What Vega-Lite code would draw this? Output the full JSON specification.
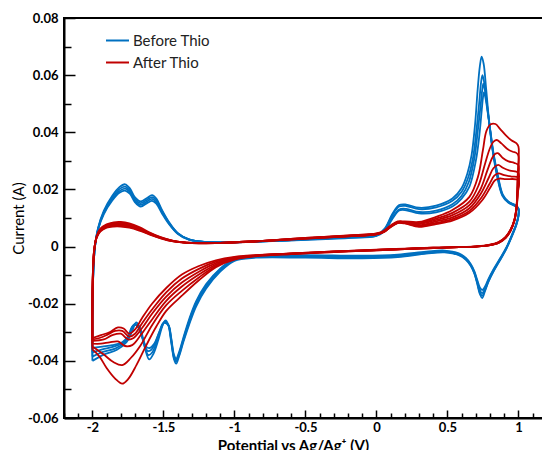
{
"$schema":"https://vega.github.io/schema/vega-lite/v6.json",
"autosize":"none",
"padding":{"left":64,"top":18,"right":0,"bottom":32},
"width":479,"height":400,
"config":{"view":{"stroke":"black","strokeWidth":2},"axis":{"grid":false,"domainColor":"black","domainWidth":2,"tickColor":"black","tickWidth":1.5,"labelFont":"Lato","labelFontWeight":"bold","labelFontSize":13,"labelColor":"black","labelOverlap":false,"labelFlush":false,"titleColor":"black"}},
"data":{"values":[
{"s":"B","c":1,"x":-2,"y":-0.04},{"s":"B","c":1,"x":-2,"y":-0.026},{"s":"B","c":1,"x":-1.994,"y":-0.01},{"s":"B","c":1,"x":-1.982,"y":0.0},{"s":"B","c":1,"x":-1.96,"y":0.0065},{"s":"B","c":1,"x":-1.92,"y":0.0125},{"s":"B","c":1,"x":-1.86,"y":0.0178},{"s":"B","c":1,"x":-1.81,"y":0.0208},{"s":"B","c":1,"x":-1.77,"y":0.0218},{"s":"B","c":1,"x":-1.735,"y":0.0203},{"s":"B","c":1,"x":-1.7,"y":0.0172},{"s":"B","c":1,"x":-1.66,"y":0.0158},{"s":"B","c":1,"x":-1.615,"y":0.017},{"s":"B","c":1,"x":-1.58,"y":0.018},{"s":"B","c":1,"x":-1.55,"y":0.0168},{"s":"B","c":1,"x":-1.51,"y":0.0128},{"s":"B","c":1,"x":-1.46,"y":0.0085},{"s":"B","c":1,"x":-1.4,"y":0.0048},{"s":"B","c":1,"x":-1.32,"y":0.0025},{"s":"B","c":1,"x":-1.2,"y":0.0016},{"s":"B","c":1,"x":-1.0,"y":0.0015},{"s":"B","c":1,"x":-0.6,"y":0.0023},{"s":"B","c":1,"x":-0.2,"y":0.0033},
{"s":"B","c":1,"x":0.0,"y":0.004},{"s":"B","c":1,"x":0.06,"y":0.0064},{"s":"B","c":1,"x":0.11,"y":0.0112},{"s":"B","c":1,"x":0.16,"y":0.0145},{"s":"B","c":1,"x":0.21,"y":0.0147},{"s":"B","c":1,"x":0.3,"y":0.0136},{"s":"B","c":1,"x":0.42,"y":0.0143},{"s":"B","c":1,"x":0.535,"y":0.0168},{"s":"B","c":1,"x":0.6,"y":0.0205},{"s":"B","c":1,"x":0.64,"y":0.0255},{"s":"B","c":1,"x":0.67,"y":0.032},{"s":"B","c":1,"x":0.695,"y":0.043},{"s":"B","c":1,"x":0.713,"y":0.055},{"s":"B","c":1,"x":0.728,"y":0.063},{"s":"B","c":1,"x":0.741,"y":0.0665},{"s":"B","c":1,"x":0.755,"y":0.064},{"s":"B","c":1,"x":0.773,"y":0.055},{"s":"B","c":1,"x":0.795,"y":0.043},{"s":"B","c":1,"x":0.817,"y":0.034},{"s":"B","c":1,"x":0.85,"y":0.0245},{"s":"B","c":1,"x":0.887,"y":0.0178},{"s":"B","c":1,"x":0.93,"y":0.0153},{"s":"B","c":1,"x":0.975,"y":0.0142},{"s":"B","c":1,"x":1.0,"y":0.013},
{"s":"B","c":1,"x":1.0,"y":0.0105},{"s":"B","c":1,"x":0.985,"y":0.0075},{"s":"B","c":1,"x":0.955,"y":0.0037},{"s":"B","c":1,"x":0.915,"y":-0.0008},{"s":"B","c":1,"x":0.87,"y":-0.0048},{"s":"B","c":1,"x":0.825,"y":-0.0087},{"s":"B","c":1,"x":0.79,"y":-0.0122},{"s":"B","c":1,"x":0.765,"y":-0.0155},{"s":"B","c":1,"x":0.745,"y":-0.018},{"s":"B","c":1,"x":0.728,"y":-0.0166},{"s":"B","c":1,"x":0.71,"y":-0.013},{"s":"B","c":1,"x":0.69,"y":-0.0095},{"s":"B","c":1,"x":0.665,"y":-0.0068},{"s":"B","c":1,"x":0.63,"y":-0.0046},{"s":"B","c":1,"x":0.58,"y":-0.003},{"s":"B","c":1,"x":0.48,"y":-0.002},{"s":"B","c":1,"x":0.35,"y":-0.0025},{"s":"B","c":1,"x":0.15,"y":-0.0037},{"s":"B","c":1,"x":-0.1,"y":-0.0041},{"s":"B","c":1,"x":-0.5,"y":-0.0039},
{"s":"B","c":1,"x":-0.85,"y":-0.0039},{"s":"B","c":1,"x":-1.0,"y":-0.005},{"s":"B","c":1,"x":-1.1,"y":-0.0088},{"s":"B","c":1,"x":-1.2,"y":-0.0148},{"s":"B","c":1,"x":-1.27,"y":-0.021},{"s":"B","c":1,"x":-1.32,"y":-0.0275},{"s":"B","c":1,"x":-1.36,"y":-0.0335},{"s":"B","c":1,"x":-1.39,"y":-0.0385},{"s":"B","c":1,"x":-1.41,"y":-0.041},{"s":"B","c":1,"x":-1.425,"y":-0.0395},{"s":"B","c":1,"x":-1.445,"y":-0.0335},{"s":"B","c":1,"x":-1.465,"y":-0.0275},{"s":"B","c":1,"x":-1.485,"y":-0.0258},{"s":"B","c":1,"x":-1.505,"y":-0.0275},{"s":"B","c":1,"x":-1.535,"y":-0.0325},{"s":"B","c":1,"x":-1.57,"y":-0.0375},{"s":"B","c":1,"x":-1.6,"y":-0.0395},{"s":"B","c":1,"x":-1.63,"y":-0.0355},{"s":"B","c":1,"x":-1.66,"y":-0.029},{"s":"B","c":1,"x":-1.69,"y":-0.0265},{"s":"B","c":1,"x":-1.72,"y":-0.0295},{"s":"B","c":1,"x":-1.76,"y":-0.0335},{"s":"B","c":1,"x":-1.83,"y":-0.0362},{"s":"B","c":1,"x":-1.92,"y":-0.0378},{"s":"B","c":1,"x":-2.0,"y":-0.04},

{"s":"B","c":2,"x":-2,"y":-0.0385},{"s":"B","c":2,"x":-2,"y":-0.025},{"s":"B","c":2,"x":-1.994,"y":-0.0098},{"s":"B","c":2,"x":-1.982,"y":0.0},{"s":"B","c":2,"x":-1.96,"y":0.0063},{"s":"B","c":2,"x":-1.92,"y":0.0121},{"s":"B","c":2,"x":-1.86,"y":0.0172},{"s":"B","c":2,"x":-1.81,"y":0.0201},{"s":"B","c":2,"x":-1.77,"y":0.021},{"s":"B","c":2,"x":-1.735,"y":0.0196},{"s":"B","c":2,"x":-1.7,"y":0.0166},{"s":"B","c":2,"x":-1.66,"y":0.0152},{"s":"B","c":2,"x":-1.615,"y":0.0164},{"s":"B","c":2,"x":-1.58,"y":0.0173},{"s":"B","c":2,"x":-1.55,"y":0.0162},{"s":"B","c":2,"x":-1.51,"y":0.0124},{"s":"B","c":2,"x":-1.46,"y":0.0083},{"s":"B","c":2,"x":-1.4,"y":0.0047},{"s":"B","c":2,"x":-1.32,"y":0.0025},{"s":"B","c":2,"x":-1.2,"y":0.0016},{"s":"B","c":2,"x":-1.0,"y":0.0015},{"s":"B","c":2,"x":-0.6,"y":0.0023},{"s":"B","c":2,"x":-0.2,"y":0.0032},
{"s":"B","c":2,"x":0.0,"y":0.0039},{"s":"B","c":2,"x":0.06,"y":0.0062},{"s":"B","c":2,"x":0.11,"y":0.0108},{"s":"B","c":2,"x":0.16,"y":0.014},{"s":"B","c":2,"x":0.21,"y":0.0142},{"s":"B","c":2,"x":0.3,"y":0.0131},{"s":"B","c":2,"x":0.42,"y":0.0137},{"s":"B","c":2,"x":0.535,"y":0.016},{"s":"B","c":2,"x":0.6,"y":0.0192},{"s":"B","c":2,"x":0.645,"y":0.024},{"s":"B","c":2,"x":0.68,"y":0.031},{"s":"B","c":2,"x":0.705,"y":0.041},{"s":"B","c":2,"x":0.725,"y":0.051},{"s":"B","c":2,"x":0.737,"y":0.0575},{"s":"B","c":2,"x":0.747,"y":0.06},{"s":"B","c":2,"x":0.762,"y":0.0565},{"s":"B","c":2,"x":0.78,"y":0.049},{"s":"B","c":2,"x":0.8,"y":0.041},{"s":"B","c":2,"x":0.82,"y":0.0335},{"s":"B","c":2,"x":0.852,"y":0.0248},{"s":"B","c":2,"x":0.888,"y":0.018},{"s":"B","c":2,"x":0.93,"y":0.0155},{"s":"B","c":2,"x":0.975,"y":0.0144},{"s":"B","c":2,"x":1.0,"y":0.0132},
{"s":"B","c":2,"x":1.0,"y":0.0107},{"s":"B","c":2,"x":0.985,"y":0.0077},{"s":"B","c":2,"x":0.955,"y":0.0039},{"s":"B","c":2,"x":0.915,"y":-0.0006},{"s":"B","c":2,"x":0.87,"y":-0.0046},{"s":"B","c":2,"x":0.825,"y":-0.0085},{"s":"B","c":2,"x":0.79,"y":-0.012},{"s":"B","c":2,"x":0.765,"y":-0.0152},{"s":"B","c":2,"x":0.745,"y":-0.0172},{"s":"B","c":2,"x":0.728,"y":-0.016},{"s":"B","c":2,"x":0.71,"y":-0.0127},{"s":"B","c":2,"x":0.69,"y":-0.0093},{"s":"B","c":2,"x":0.665,"y":-0.0066},{"s":"B","c":2,"x":0.63,"y":-0.0044},{"s":"B","c":2,"x":0.58,"y":-0.0028},{"s":"B","c":2,"x":0.48,"y":-0.0018},{"s":"B","c":2,"x":0.35,"y":-0.0023},{"s":"B","c":2,"x":0.15,"y":-0.0034},{"s":"B","c":2,"x":-0.1,"y":-0.0038},{"s":"B","c":2,"x":-0.5,"y":-0.0036},
{"s":"B","c":2,"x":-0.85,"y":-0.0037},{"s":"B","c":2,"x":-1.0,"y":-0.0048},{"s":"B","c":2,"x":-1.1,"y":-0.0084},{"s":"B","c":2,"x":-1.2,"y":-0.0142},{"s":"B","c":2,"x":-1.27,"y":-0.0203},{"s":"B","c":2,"x":-1.32,"y":-0.0268},{"s":"B","c":2,"x":-1.36,"y":-0.033},{"s":"B","c":2,"x":-1.39,"y":-0.038},{"s":"B","c":2,"x":-1.41,"y":-0.0403},{"s":"B","c":2,"x":-1.425,"y":-0.039},{"s":"B","c":2,"x":-1.445,"y":-0.033},{"s":"B","c":2,"x":-1.465,"y":-0.0275},{"s":"B","c":2,"x":-1.49,"y":-0.0262},{"s":"B","c":2,"x":-1.515,"y":-0.0285},{"s":"B","c":2,"x":-1.545,"y":-0.033},{"s":"B","c":2,"x":-1.578,"y":-0.037},{"s":"B","c":2,"x":-1.605,"y":-0.038},{"s":"B","c":2,"x":-1.635,"y":-0.0345},{"s":"B","c":2,"x":-1.67,"y":-0.0285},{"s":"B","c":2,"x":-1.7,"y":-0.027},{"s":"B","c":2,"x":-1.73,"y":-0.0305},{"s":"B","c":2,"x":-1.77,"y":-0.0335},{"s":"B","c":2,"x":-1.84,"y":-0.0357},{"s":"B","c":2,"x":-1.92,"y":-0.0368},{"s":"B","c":2,"x":-2.0,"y":-0.0385},

{"s":"B","c":3,"x":-2,"y":-0.037},{"s":"B","c":3,"x":-2,"y":-0.024},{"s":"B","c":3,"x":-1.994,"y":-0.0095},{"s":"B","c":3,"x":-1.982,"y":0.0},{"s":"B","c":3,"x":-1.96,"y":0.0061},{"s":"B","c":3,"x":-1.92,"y":0.0117},{"s":"B","c":3,"x":-1.86,"y":0.0166},{"s":"B","c":3,"x":-1.81,"y":0.0194},{"s":"B","c":3,"x":-1.77,"y":0.0203},{"s":"B","c":3,"x":-1.735,"y":0.019},{"s":"B","c":3,"x":-1.7,"y":0.016},{"s":"B","c":3,"x":-1.66,"y":0.0146},{"s":"B","c":3,"x":-1.615,"y":0.0158},{"s":"B","c":3,"x":-1.58,"y":0.0167},{"s":"B","c":3,"x":-1.55,"y":0.0156},{"s":"B","c":3,"x":-1.51,"y":0.012},{"s":"B","c":3,"x":-1.46,"y":0.0081},{"s":"B","c":3,"x":-1.4,"y":0.0046},{"s":"B","c":3,"x":-1.32,"y":0.0024},{"s":"B","c":3,"x":-1.2,"y":0.0016},{"s":"B","c":3,"x":-1.0,"y":0.0015},{"s":"B","c":3,"x":-0.6,"y":0.0022},{"s":"B","c":3,"x":-0.2,"y":0.0031},
{"s":"B","c":3,"x":0.0,"y":0.0038},{"s":"B","c":3,"x":0.06,"y":0.0058},{"s":"B","c":3,"x":0.11,"y":0.0099},{"s":"B","c":3,"x":0.16,"y":0.013},{"s":"B","c":3,"x":0.21,"y":0.0132},{"s":"B","c":3,"x":0.3,"y":0.0121},{"s":"B","c":3,"x":0.42,"y":0.0126},{"s":"B","c":3,"x":0.535,"y":0.0148},{"s":"B","c":3,"x":0.6,"y":0.0178},{"s":"B","c":3,"x":0.65,"y":0.0225},{"s":"B","c":3,"x":0.69,"y":0.031},{"s":"B","c":3,"x":0.715,"y":0.041},{"s":"B","c":3,"x":0.735,"y":0.05},{"s":"B","c":3,"x":0.745,"y":0.0548},{"s":"B","c":3,"x":0.753,"y":0.057},{"s":"B","c":3,"x":0.765,"y":0.0545},{"s":"B","c":3,"x":0.783,"y":0.048},{"s":"B","c":3,"x":0.802,"y":0.0405},{"s":"B","c":3,"x":0.822,"y":0.033},{"s":"B","c":3,"x":0.853,"y":0.025},{"s":"B","c":3,"x":0.888,"y":0.0181},{"s":"B","c":3,"x":0.93,"y":0.0156},{"s":"B","c":3,"x":0.975,"y":0.0145},{"s":"B","c":3,"x":1.0,"y":0.0133},
{"s":"B","c":3,"x":1.0,"y":0.0108},{"s":"B","c":3,"x":0.985,"y":0.0078},{"s":"B","c":3,"x":0.955,"y":0.004},{"s":"B","c":3,"x":0.915,"y":-0.0005},{"s":"B","c":3,"x":0.87,"y":-0.0044},{"s":"B","c":3,"x":0.825,"y":-0.0082},{"s":"B","c":3,"x":0.79,"y":-0.0116},{"s":"B","c":3,"x":0.765,"y":-0.0146},{"s":"B","c":3,"x":0.745,"y":-0.0163},{"s":"B","c":3,"x":0.728,"y":-0.0152},{"s":"B","c":3,"x":0.71,"y":-0.0122},{"s":"B","c":3,"x":0.69,"y":-0.009},{"s":"B","c":3,"x":0.665,"y":-0.0064},{"s":"B","c":3,"x":0.63,"y":-0.0042},{"s":"B","c":3,"x":0.58,"y":-0.0026},{"s":"B","c":3,"x":0.48,"y":-0.0016},{"s":"B","c":3,"x":0.35,"y":-0.002},{"s":"B","c":3,"x":0.15,"y":-0.0031},{"s":"B","c":3,"x":-0.1,"y":-0.0035},{"s":"B","c":3,"x":-0.5,"y":-0.0033},
{"s":"B","c":3,"x":-0.85,"y":-0.0035},{"s":"B","c":3,"x":-1.0,"y":-0.0046},{"s":"B","c":3,"x":-1.1,"y":-0.008},{"s":"B","c":3,"x":-1.2,"y":-0.0137},{"s":"B","c":3,"x":-1.27,"y":-0.0197},{"s":"B","c":3,"x":-1.32,"y":-0.0262},{"s":"B","c":3,"x":-1.36,"y":-0.0325},{"s":"B","c":3,"x":-1.39,"y":-0.0375},{"s":"B","c":3,"x":-1.41,"y":-0.0398},{"s":"B","c":3,"x":-1.425,"y":-0.0385},{"s":"B","c":3,"x":-1.445,"y":-0.0325},{"s":"B","c":3,"x":-1.465,"y":-0.0275},{"s":"B","c":3,"x":-1.495,"y":-0.0265},{"s":"B","c":3,"x":-1.525,"y":-0.0295},{"s":"B","c":3,"x":-1.555,"y":-0.0335},{"s":"B","c":3,"x":-1.587,"y":-0.0362},{"s":"B","c":3,"x":-1.612,"y":-0.0365},{"s":"B","c":3,"x":-1.64,"y":-0.033},{"s":"B","c":3,"x":-1.68,"y":-0.028},{"s":"B","c":3,"x":-1.71,"y":-0.0275},{"s":"B","c":3,"x":-1.74,"y":-0.031},{"s":"B","c":3,"x":-1.78,"y":-0.0335},{"s":"B","c":3,"x":-1.85,"y":-0.035},{"s":"B","c":3,"x":-1.93,"y":-0.036},{"s":"B","c":3,"x":-2.0,"y":-0.037},

{"s":"B","c":4,"x":-2,"y":-0.0355},{"s":"B","c":4,"x":-2,"y":-0.023},{"s":"B","c":4,"x":-1.994,"y":-0.0092},{"s":"B","c":4,"x":-1.982,"y":0.0},{"s":"B","c":4,"x":-1.96,"y":0.0059},{"s":"B","c":4,"x":-1.92,"y":0.0113},{"s":"B","c":4,"x":-1.86,"y":0.0161},{"s":"B","c":4,"x":-1.81,"y":0.0188},{"s":"B","c":4,"x":-1.77,"y":0.0196},{"s":"B","c":4,"x":-1.735,"y":0.0184},{"s":"B","c":4,"x":-1.7,"y":0.0155},{"s":"B","c":4,"x":-1.66,"y":0.014},{"s":"B","c":4,"x":-1.615,"y":0.0152},{"s":"B","c":4,"x":-1.58,"y":0.016},{"s":"B","c":4,"x":-1.55,"y":0.015},{"s":"B","c":4,"x":-1.51,"y":0.0116},{"s":"B","c":4,"x":-1.46,"y":0.0078},{"s":"B","c":4,"x":-1.4,"y":0.0045},{"s":"B","c":4,"x":-1.32,"y":0.0024},{"s":"B","c":4,"x":-1.2,"y":0.0016},{"s":"B","c":4,"x":-1.0,"y":0.0015},{"s":"B","c":4,"x":-0.6,"y":0.0022},{"s":"B","c":4,"x":-0.2,"y":0.003},
{"s":"B","c":4,"x":0.0,"y":0.0037},{"s":"B","c":4,"x":0.06,"y":0.0056},{"s":"B","c":4,"x":0.11,"y":0.0095},{"s":"B","c":4,"x":0.16,"y":0.0126},{"s":"B","c":4,"x":0.21,"y":0.0127},{"s":"B","c":4,"x":0.3,"y":0.0116},{"s":"B","c":4,"x":0.42,"y":0.012},{"s":"B","c":4,"x":0.535,"y":0.014},{"s":"B","c":4,"x":0.6,"y":0.0168},{"s":"B","c":4,"x":0.655,"y":0.021},{"s":"B","c":4,"x":0.7,"y":0.03},{"s":"B","c":4,"x":0.725,"y":0.039},{"s":"B","c":4,"x":0.742,"y":0.048},{"s":"B","c":4,"x":0.75,"y":0.052},{"s":"B","c":4,"x":0.757,"y":0.054},{"s":"B","c":4,"x":0.768,"y":0.052},{"s":"B","c":4,"x":0.785,"y":0.0465},{"s":"B","c":4,"x":0.805,"y":0.0395},{"s":"B","c":4,"x":0.825,"y":0.0325},{"s":"B","c":4,"x":0.855,"y":0.025},{"s":"B","c":4,"x":0.89,"y":0.0182},{"s":"B","c":4,"x":0.93,"y":0.0157},{"s":"B","c":4,"x":0.975,"y":0.0146},{"s":"B","c":4,"x":1.0,"y":0.0134},
{"s":"B","c":4,"x":1.0,"y":0.011},{"s":"B","c":4,"x":0.985,"y":0.008},{"s":"B","c":4,"x":0.955,"y":0.0042},{"s":"B","c":4,"x":0.915,"y":-0.0003},{"s":"B","c":4,"x":0.87,"y":-0.0042},{"s":"B","c":4,"x":0.825,"y":-0.0079},{"s":"B","c":4,"x":0.79,"y":-0.0112},{"s":"B","c":4,"x":0.765,"y":-0.014},{"s":"B","c":4,"x":0.745,"y":-0.0152},{"s":"B","c":4,"x":0.728,"y":-0.0143},{"s":"B","c":4,"x":0.71,"y":-0.0117},{"s":"B","c":4,"x":0.69,"y":-0.0087},{"s":"B","c":4,"x":0.665,"y":-0.0062},{"s":"B","c":4,"x":0.63,"y":-0.004},{"s":"B","c":4,"x":0.58,"y":-0.0024},{"s":"B","c":4,"x":0.48,"y":-0.0014},{"s":"B","c":4,"x":0.35,"y":-0.0018},{"s":"B","c":4,"x":0.15,"y":-0.0028},{"s":"B","c":4,"x":-0.1,"y":-0.0032},{"s":"B","c":4,"x":-0.5,"y":-0.003},
{"s":"B","c":4,"x":-0.85,"y":-0.0033},{"s":"B","c":4,"x":-1.0,"y":-0.0044},{"s":"B","c":4,"x":-1.1,"y":-0.0077},{"s":"B","c":4,"x":-1.2,"y":-0.0132},{"s":"B","c":4,"x":-1.27,"y":-0.0192},{"s":"B","c":4,"x":-1.32,"y":-0.0256},{"s":"B","c":4,"x":-1.36,"y":-0.032},{"s":"B","c":4,"x":-1.39,"y":-0.037},{"s":"B","c":4,"x":-1.41,"y":-0.0392},{"s":"B","c":4,"x":-1.425,"y":-0.038},{"s":"B","c":4,"x":-1.445,"y":-0.032},{"s":"B","c":4,"x":-1.465,"y":-0.0275},{"s":"B","c":4,"x":-1.5,"y":-0.0268},{"s":"B","c":4,"x":-1.53,"y":-0.03},{"s":"B","c":4,"x":-1.565,"y":-0.034},{"s":"B","c":4,"x":-1.597,"y":-0.0355},{"s":"B","c":4,"x":-1.622,"y":-0.035},{"s":"B","c":4,"x":-1.65,"y":-0.0315},{"s":"B","c":4,"x":-1.69,"y":-0.0275},{"s":"B","c":4,"x":-1.72,"y":-0.028},{"s":"B","c":4,"x":-1.75,"y":-0.0315},{"s":"B","c":4,"x":-1.79,"y":-0.0335},{"s":"B","c":4,"x":-1.86,"y":-0.0345},{"s":"B","c":4,"x":-1.93,"y":-0.035},{"s":"B","c":4,"x":-2.0,"y":-0.0355},

{"s":"A","c":1,"x":-2,"y":-0.036},{"s":"A","c":1,"x":-2,"y":-0.022},{"s":"A","c":1,"x":-1.996,"y":-0.01},{"s":"A","c":1,"x":-1.988,"y":-0.002},{"s":"A","c":1,"x":-1.972,"y":0.0033},{"s":"A","c":1,"x":-1.945,"y":0.0062},{"s":"A","c":1,"x":-1.9,"y":0.0078},{"s":"A","c":1,"x":-1.85,"y":0.0085},{"s":"A","c":1,"x":-1.8,"y":0.0086},{"s":"A","c":1,"x":-1.74,"y":0.0081},{"s":"A","c":1,"x":-1.67,"y":0.0068},{"s":"A","c":1,"x":-1.6,"y":0.005},{"s":"A","c":1,"x":-1.52,"y":0.0033},{"s":"A","c":1,"x":-1.43,"y":0.002},{"s":"A","c":1,"x":-1.3,"y":0.0013},{"s":"A","c":1,"x":-1.1,"y":0.0013},{"s":"A","c":1,"x":-0.8,"y":0.002},{"s":"A","c":1,"x":-0.5,"y":0.003},{"s":"A","c":1,"x":-0.2,"y":0.0039},
{"s":"A","c":1,"x":0.0,"y":0.0046},{"s":"A","c":1,"x":0.05,"y":0.0054},{"s":"A","c":1,"x":0.1,"y":0.0074},{"s":"A","c":1,"x":0.15,"y":0.0088},{"s":"A","c":1,"x":0.2,"y":0.0088},{"s":"A","c":1,"x":0.3,"y":0.0086},{"s":"A","c":1,"x":0.42,"y":0.0104},{"s":"A","c":1,"x":0.535,"y":0.0128},{"s":"A","c":1,"x":0.655,"y":0.0174},{"s":"A","c":1,"x":0.715,"y":0.0244},{"s":"A","c":1,"x":0.75,"y":0.0338},{"s":"A","c":1,"x":0.775,"y":0.0405},{"s":"A","c":1,"x":0.805,"y":0.0428},{"s":"A","c":1,"x":0.838,"y":0.0429},{"s":"A","c":1,"x":0.87,"y":0.0412},{"s":"A","c":1,"x":0.91,"y":0.039},{"s":"A","c":1,"x":0.95,"y":0.0372},{"s":"A","c":1,"x":0.985,"y":0.0362},{"s":"A","c":1,"x":1.0,"y":0.035},
{"s":"A","c":1,"x":0.995,"y":0.025},{"s":"A","c":1,"x":0.988,"y":0.015},{"s":"A","c":1,"x":0.972,"y":0.0095},{"s":"A","c":1,"x":0.945,"y":0.006},{"s":"A","c":1,"x":0.91,"y":0.0034},{"s":"A","c":1,"x":0.86,"y":0.0016},{"s":"A","c":1,"x":0.79,"y":0.0006},{"s":"A","c":1,"x":0.7,"y":0.0001},{"s":"A","c":1,"x":0.58,"y":-0.0002},{"s":"A","c":1,"x":0.4,"y":-0.0005},{"s":"A","c":1,"x":0.2,"y":-0.0009},{"s":"A","c":1,"x":0.0,"y":-0.0013},{"s":"A","c":1,"x":-0.3,"y":-0.0019},{"s":"A","c":1,"x":-0.6,"y":-0.0026},{"s":"A","c":1,"x":-0.85,"y":-0.0034},
{"s":"A","c":1,"x":-1.0,"y":-0.0046},{"s":"A","c":1,"x":-1.13,"y":-0.0072},{"s":"A","c":1,"x":-1.25,"y":-0.0118},{"s":"A","c":1,"x":-1.37,"y":-0.0172},{"s":"A","c":1,"x":-1.48,"y":-0.0225},{"s":"A","c":1,"x":-1.55,"y":-0.028},{"s":"A","c":1,"x":-1.62,"y":-0.0345},{"s":"A","c":1,"x":-1.69,"y":-0.0415},{"s":"A","c":1,"x":-1.75,"y":-0.0465},{"s":"A","c":1,"x":-1.79,"y":-0.048},{"s":"A","c":1,"x":-1.84,"y":-0.0462},{"s":"A","c":1,"x":-1.9,"y":-0.0425},{"s":"A","c":1,"x":-1.95,"y":-0.0385},{"s":"A","c":1,"x":-2.0,"y":-0.036},

{"s":"A","c":2,"x":-2,"y":-0.035},{"s":"A","c":2,"x":-2,"y":-0.021},{"s":"A","c":2,"x":-1.996,"y":-0.0095},{"s":"A","c":2,"x":-1.988,"y":-0.0018},{"s":"A","c":2,"x":-1.972,"y":0.0032},{"s":"A","c":2,"x":-1.945,"y":0.006},{"s":"A","c":2,"x":-1.9,"y":0.0075},{"s":"A","c":2,"x":-1.85,"y":0.0082},{"s":"A","c":2,"x":-1.8,"y":0.0082},{"s":"A","c":2,"x":-1.74,"y":0.0078},{"s":"A","c":2,"x":-1.67,"y":0.0065},{"s":"A","c":2,"x":-1.6,"y":0.0048},{"s":"A","c":2,"x":-1.52,"y":0.0032},{"s":"A","c":2,"x":-1.43,"y":0.002},{"s":"A","c":2,"x":-1.3,"y":0.0013},{"s":"A","c":2,"x":-1.1,"y":0.0013},{"s":"A","c":2,"x":-0.8,"y":0.002},{"s":"A","c":2,"x":-0.5,"y":0.003},{"s":"A","c":2,"x":-0.2,"y":0.0038},
{"s":"A","c":2,"x":0.0,"y":0.0045},{"s":"A","c":2,"x":0.05,"y":0.0053},{"s":"A","c":2,"x":0.1,"y":0.0072},{"s":"A","c":2,"x":0.15,"y":0.0086},{"s":"A","c":2,"x":0.2,"y":0.0086},{"s":"A","c":2,"x":0.3,"y":0.0082},{"s":"A","c":2,"x":0.42,"y":0.0098},{"s":"A","c":2,"x":0.535,"y":0.0118},{"s":"A","c":2,"x":0.655,"y":0.0157},{"s":"A","c":2,"x":0.72,"y":0.0215},{"s":"A","c":2,"x":0.765,"y":0.029},{"s":"A","c":2,"x":0.8,"y":0.0345},{"s":"A","c":2,"x":0.825,"y":0.0367},{"s":"A","c":2,"x":0.848,"y":0.0373},{"s":"A","c":2,"x":0.88,"y":0.0361},{"s":"A","c":2,"x":0.92,"y":0.0342},{"s":"A","c":2,"x":0.96,"y":0.0332},{"s":"A","c":2,"x":0.985,"y":0.0328},{"s":"A","c":2,"x":1.0,"y":0.0318},
{"s":"A","c":2,"x":0.995,"y":0.024},{"s":"A","c":2,"x":0.988,"y":0.0148},{"s":"A","c":2,"x":0.972,"y":0.0094},{"s":"A","c":2,"x":0.945,"y":0.0059},{"s":"A","c":2,"x":0.91,"y":0.0033},{"s":"A","c":2,"x":0.86,"y":0.0015},{"s":"A","c":2,"x":0.79,"y":0.0005},{"s":"A","c":2,"x":0.7,"y":0.0},{"s":"A","c":2,"x":0.58,"y":-0.0002},{"s":"A","c":2,"x":0.4,"y":-0.0005},{"s":"A","c":2,"x":0.2,"y":-0.0009},{"s":"A","c":2,"x":0.0,"y":-0.0013},{"s":"A","c":2,"x":-0.3,"y":-0.0019},{"s":"A","c":2,"x":-0.6,"y":-0.0026},{"s":"A","c":2,"x":-0.85,"y":-0.0033},
{"s":"A","c":2,"x":-1.0,"y":-0.0044},{"s":"A","c":2,"x":-1.13,"y":-0.0068},{"s":"A","c":2,"x":-1.25,"y":-0.0108},{"s":"A","c":2,"x":-1.37,"y":-0.0155},{"s":"A","c":2,"x":-1.48,"y":-0.0205},{"s":"A","c":2,"x":-1.58,"y":-0.0275},{"s":"A","c":2,"x":-1.66,"y":-0.0345},{"s":"A","c":2,"x":-1.73,"y":-0.039},{"s":"A","c":2,"x":-1.79,"y":-0.0415},{"s":"A","c":2,"x":-1.85,"y":-0.0405},{"s":"A","c":2,"x":-1.92,"y":-0.0378},{"s":"A","c":2,"x":-2.0,"y":-0.035},

{"s":"A","c":3,"x":-2,"y":-0.034},{"s":"A","c":3,"x":-2,"y":-0.02},{"s":"A","c":3,"x":-1.996,"y":-0.009},{"s":"A","c":3,"x":-1.988,"y":-0.0016},{"s":"A","c":3,"x":-1.972,"y":0.0031},{"s":"A","c":3,"x":-1.945,"y":0.0058},{"s":"A","c":3,"x":-1.9,"y":0.0073},{"s":"A","c":3,"x":-1.85,"y":0.0079},{"s":"A","c":3,"x":-1.8,"y":0.0079},{"s":"A","c":3,"x":-1.74,"y":0.0075},{"s":"A","c":3,"x":-1.67,"y":0.0062},{"s":"A","c":3,"x":-1.6,"y":0.0046},{"s":"A","c":3,"x":-1.52,"y":0.0031},{"s":"A","c":3,"x":-1.43,"y":0.0019},{"s":"A","c":3,"x":-1.3,"y":0.0013},{"s":"A","c":3,"x":-1.1,"y":0.0013},{"s":"A","c":3,"x":-0.8,"y":0.002},{"s":"A","c":3,"x":-0.5,"y":0.0029},{"s":"A","c":3,"x":-0.2,"y":0.0037},
{"s":"A","c":3,"x":0.0,"y":0.0044},{"s":"A","c":3,"x":0.05,"y":0.0052},{"s":"A","c":3,"x":0.1,"y":0.0071},{"s":"A","c":3,"x":0.15,"y":0.0085},{"s":"A","c":3,"x":0.2,"y":0.0085},{"s":"A","c":3,"x":0.3,"y":0.0079},{"s":"A","c":3,"x":0.42,"y":0.0093},{"s":"A","c":3,"x":0.535,"y":0.011},{"s":"A","c":3,"x":0.655,"y":0.0145},{"s":"A","c":3,"x":0.73,"y":0.0198},{"s":"A","c":3,"x":0.78,"y":0.0265},{"s":"A","c":3,"x":0.815,"y":0.031},{"s":"A","c":3,"x":0.835,"y":0.0324},{"s":"A","c":3,"x":0.855,"y":0.0327},{"s":"A","c":3,"x":0.89,"y":0.031},{"s":"A","c":3,"x":0.93,"y":0.0298},{"s":"A","c":3,"x":0.97,"y":0.0293},{"s":"A","c":3,"x":1.0,"y":0.0285},
{"s":"A","c":3,"x":0.995,"y":0.0225},{"s":"A","c":3,"x":0.988,"y":0.0145},{"s":"A","c":3,"x":0.972,"y":0.0093},{"s":"A","c":3,"x":0.945,"y":0.0058},{"s":"A","c":3,"x":0.91,"y":0.0032},{"s":"A","c":3,"x":0.86,"y":0.0014},{"s":"A","c":3,"x":0.79,"y":0.0004},{"s":"A","c":3,"x":0.7,"y":0.0},{"s":"A","c":3,"x":0.58,"y":-0.0002},{"s":"A","c":3,"x":0.4,"y":-0.0005},{"s":"A","c":3,"x":0.2,"y":-0.0008},{"s":"A","c":3,"x":0.0,"y":-0.0012},{"s":"A","c":3,"x":-0.3,"y":-0.0018},{"s":"A","c":3,"x":-0.6,"y":-0.0025},{"s":"A","c":3,"x":-0.85,"y":-0.0032},
{"s":"A","c":3,"x":-1.0,"y":-0.0042},{"s":"A","c":3,"x":-1.13,"y":-0.0063},{"s":"A","c":3,"x":-1.25,"y":-0.0098},{"s":"A","c":3,"x":-1.37,"y":-0.014},{"s":"A","c":3,"x":-1.48,"y":-0.019},{"s":"A","c":3,"x":-1.58,"y":-0.0255},{"s":"A","c":3,"x":-1.66,"y":-0.031},{"s":"A","c":3,"x":-1.72,"y":-0.0345},{"s":"A","c":3,"x":-1.77,"y":-0.0348},{"s":"A","c":3,"x":-1.82,"y":-0.0332},{"s":"A","c":3,"x":-1.88,"y":-0.0335},{"s":"A","c":3,"x":-1.94,"y":-0.034},{"s":"A","c":3,"x":-2.0,"y":-0.034},

{"s":"A","c":4,"x":-2,"y":-0.033},{"s":"A","c":4,"x":-2,"y":-0.019},{"s":"A","c":4,"x":-1.996,"y":-0.0085},{"s":"A","c":4,"x":-1.988,"y":-0.0014},{"s":"A","c":4,"x":-1.972,"y":0.003},{"s":"A","c":4,"x":-1.945,"y":0.0056},{"s":"A","c":4,"x":-1.9,"y":0.007},{"s":"A","c":4,"x":-1.85,"y":0.0076},{"s":"A","c":4,"x":-1.8,"y":0.0076},{"s":"A","c":4,"x":-1.74,"y":0.0072},{"s":"A","c":4,"x":-1.67,"y":0.006},{"s":"A","c":4,"x":-1.6,"y":0.0045},{"s":"A","c":4,"x":-1.52,"y":0.003},{"s":"A","c":4,"x":-1.43,"y":0.0019},{"s":"A","c":4,"x":-1.3,"y":0.0013},{"s":"A","c":4,"x":-1.1,"y":0.0013},{"s":"A","c":4,"x":-0.8,"y":0.002},{"s":"A","c":4,"x":-0.5,"y":0.0029},{"s":"A","c":4,"x":-0.2,"y":0.0037},
{"s":"A","c":4,"x":0.0,"y":0.0044},{"s":"A","c":4,"x":0.05,"y":0.0051},{"s":"A","c":4,"x":0.1,"y":0.007},{"s":"A","c":4,"x":0.15,"y":0.0084},{"s":"A","c":4,"x":0.2,"y":0.0083},{"s":"A","c":4,"x":0.3,"y":0.0075},{"s":"A","c":4,"x":0.42,"y":0.0088},{"s":"A","c":4,"x":0.535,"y":0.0102},{"s":"A","c":4,"x":0.655,"y":0.0134},{"s":"A","c":4,"x":0.735,"y":0.0185},{"s":"A","c":4,"x":0.79,"y":0.024},{"s":"A","c":4,"x":0.825,"y":0.0275},{"s":"A","c":4,"x":0.857,"y":0.0286},{"s":"A","c":4,"x":0.89,"y":0.0276},{"s":"A","c":4,"x":0.94,"y":0.0266},{"s":"A","c":4,"x":1.0,"y":0.0258},
{"s":"A","c":4,"x":0.995,"y":0.0205},{"s":"A","c":4,"x":0.988,"y":0.0142},{"s":"A","c":4,"x":0.972,"y":0.0092},{"s":"A","c":4,"x":0.945,"y":0.0057},{"s":"A","c":4,"x":0.91,"y":0.0032},{"s":"A","c":4,"x":0.86,"y":0.0014},{"s":"A","c":4,"x":0.79,"y":0.0004},{"s":"A","c":4,"x":0.7,"y":0.0},{"s":"A","c":4,"x":0.58,"y":-0.0002},{"s":"A","c":4,"x":0.4,"y":-0.0004},{"s":"A","c":4,"x":0.2,"y":-0.0008},{"s":"A","c":4,"x":0.0,"y":-0.0012},{"s":"A","c":4,"x":-0.3,"y":-0.0018},{"s":"A","c":4,"x":-0.6,"y":-0.0025},{"s":"A","c":4,"x":-0.85,"y":-0.0031},
{"s":"A","c":4,"x":-1.0,"y":-0.004},{"s":"A","c":4,"x":-1.13,"y":-0.0058},{"s":"A","c":4,"x":-1.25,"y":-0.0088},{"s":"A","c":4,"x":-1.37,"y":-0.0126},{"s":"A","c":4,"x":-1.48,"y":-0.0175},{"s":"A","c":4,"x":-1.58,"y":-0.0235},{"s":"A","c":4,"x":-1.65,"y":-0.0285},{"s":"A","c":4,"x":-1.71,"y":-0.032},{"s":"A","c":4,"x":-1.75,"y":-0.0325},{"s":"A","c":4,"x":-1.8,"y":-0.0305},{"s":"A","c":4,"x":-1.86,"y":-0.031},{"s":"A","c":4,"x":-1.92,"y":-0.0325},{"s":"A","c":4,"x":-2.0,"y":-0.033},

{"s":"A","c":5,"x":-2,"y":-0.0325},{"s":"A","c":5,"x":-2,"y":-0.0185},{"s":"A","c":5,"x":-1.996,"y":-0.0082},{"s":"A","c":5,"x":-1.988,"y":-0.0013},{"s":"A","c":5,"x":-1.972,"y":0.0029},{"s":"A","c":5,"x":-1.945,"y":0.0054},{"s":"A","c":5,"x":-1.9,"y":0.0068},{"s":"A","c":5,"x":-1.85,"y":0.0073},{"s":"A","c":5,"x":-1.8,"y":0.0073},{"s":"A","c":5,"x":-1.74,"y":0.0069},{"s":"A","c":5,"x":-1.67,"y":0.0058},{"s":"A","c":5,"x":-1.6,"y":0.0044},{"s":"A","c":5,"x":-1.52,"y":0.003},{"s":"A","c":5,"x":-1.43,"y":0.0018},{"s":"A","c":5,"x":-1.3,"y":0.0012},{"s":"A","c":5,"x":-1.1,"y":0.0013},{"s":"A","c":5,"x":-0.8,"y":0.0019},{"s":"A","c":5,"x":-0.5,"y":0.0028},{"s":"A","c":5,"x":-0.2,"y":0.0036},
{"s":"A","c":5,"x":0.0,"y":0.0043},{"s":"A","c":5,"x":0.05,"y":0.005},{"s":"A","c":5,"x":0.1,"y":0.0069},{"s":"A","c":5,"x":0.15,"y":0.0083},{"s":"A","c":5,"x":0.2,"y":0.0082},{"s":"A","c":5,"x":0.3,"y":0.0072},{"s":"A","c":5,"x":0.42,"y":0.0083},{"s":"A","c":5,"x":0.535,"y":0.0096},{"s":"A","c":5,"x":0.655,"y":0.0125},{"s":"A","c":5,"x":0.74,"y":0.0172},{"s":"A","c":5,"x":0.795,"y":0.0218},{"s":"A","c":5,"x":0.83,"y":0.0248},{"s":"A","c":5,"x":0.86,"y":0.0256},{"s":"A","c":5,"x":0.9,"y":0.025},{"s":"A","c":5,"x":0.95,"y":0.0245},{"s":"A","c":5,"x":1.0,"y":0.0241},
{"s":"A","c":5,"x":0.995,"y":0.0192},{"s":"A","c":5,"x":0.988,"y":0.014},{"s":"A","c":5,"x":0.972,"y":0.0091},{"s":"A","c":5,"x":0.945,"y":0.0056},{"s":"A","c":5,"x":0.91,"y":0.0031},{"s":"A","c":5,"x":0.86,"y":0.0013},{"s":"A","c":5,"x":0.79,"y":0.0004},{"s":"A","c":5,"x":0.7,"y":0.0},{"s":"A","c":5,"x":0.58,"y":-0.0002},{"s":"A","c":5,"x":0.4,"y":-0.0004},{"s":"A","c":5,"x":0.2,"y":-0.0008},{"s":"A","c":5,"x":0.0,"y":-0.0012},{"s":"A","c":5,"x":-0.3,"y":-0.0017},{"s":"A","c":5,"x":-0.6,"y":-0.0024},{"s":"A","c":5,"x":-0.85,"y":-0.0031},
{"s":"A","c":5,"x":-1.0,"y":-0.0038},{"s":"A","c":5,"x":-1.13,"y":-0.0053},{"s":"A","c":5,"x":-1.25,"y":-0.0078},{"s":"A","c":5,"x":-1.37,"y":-0.0112},{"s":"A","c":5,"x":-1.48,"y":-0.016},{"s":"A","c":5,"x":-1.58,"y":-0.022},{"s":"A","c":5,"x":-1.65,"y":-0.0268},{"s":"A","c":5,"x":-1.7,"y":-0.0305},{"s":"A","c":5,"x":-1.74,"y":-0.0315},{"s":"A","c":5,"x":-1.79,"y":-0.0295},{"s":"A","c":5,"x":-1.84,"y":-0.0295},{"s":"A","c":5,"x":-1.9,"y":-0.031},{"s":"A","c":5,"x":-1.95,"y":-0.032},{"s":"A","c":5,"x":-2.0,"y":-0.0325},

{"s":"A","c":6,"x":-2,"y":-0.032},{"s":"A","c":6,"x":-2,"y":-0.018},{"s":"A","c":6,"x":-1.996,"y":-0.008},{"s":"A","c":6,"x":-1.988,"y":-0.0012},{"s":"A","c":6,"x":-1.972,"y":0.0028},{"s":"A","c":6,"x":-1.945,"y":0.0052},{"s":"A","c":6,"x":-1.9,"y":0.0066},{"s":"A","c":6,"x":-1.85,"y":0.007},{"s":"A","c":6,"x":-1.8,"y":0.007},{"s":"A","c":6,"x":-1.74,"y":0.0066},{"s":"A","c":6,"x":-1.67,"y":0.0056},{"s":"A","c":6,"x":-1.6,"y":0.0043},{"s":"A","c":6,"x":-1.52,"y":0.0029},{"s":"A","c":6,"x":-1.43,"y":0.0018},{"s":"A","c":6,"x":-1.3,"y":0.0012},{"s":"A","c":6,"x":-1.1,"y":0.0013},{"s":"A","c":6,"x":-0.8,"y":0.0019},{"s":"A","c":6,"x":-0.5,"y":0.0028},{"s":"A","c":6,"x":-0.2,"y":0.0036},
{"s":"A","c":6,"x":0.0,"y":0.0043},{"s":"A","c":6,"x":0.05,"y":0.005},{"s":"A","c":6,"x":0.1,"y":0.0068},{"s":"A","c":6,"x":0.15,"y":0.0082},{"s":"A","c":6,"x":0.2,"y":0.0081},{"s":"A","c":6,"x":0.3,"y":0.0069},{"s":"A","c":6,"x":0.42,"y":0.0079},{"s":"A","c":6,"x":0.535,"y":0.0091},{"s":"A","c":6,"x":0.655,"y":0.0118},{"s":"A","c":6,"x":0.745,"y":0.0162},{"s":"A","c":6,"x":0.8,"y":0.0205},{"s":"A","c":6,"x":0.835,"y":0.0232},{"s":"A","c":6,"x":0.865,"y":0.0238},{"s":"A","c":6,"x":0.91,"y":0.0236},{"s":"A","c":6,"x":1.0,"y":0.0232},
{"s":"A","c":6,"x":0.995,"y":0.0185},{"s":"A","c":6,"x":0.988,"y":0.0138},{"s":"A","c":6,"x":0.972,"y":0.009},{"s":"A","c":6,"x":0.945,"y":0.0055},{"s":"A","c":6,"x":0.91,"y":0.003},{"s":"A","c":6,"x":0.86,"y":0.0013},{"s":"A","c":6,"x":0.79,"y":0.0004},{"s":"A","c":6,"x":0.7,"y":0.0},{"s":"A","c":6,"x":0.58,"y":-0.0002},{"s":"A","c":6,"x":0.4,"y":-0.0004},{"s":"A","c":6,"x":0.2,"y":-0.0007},{"s":"A","c":6,"x":0.0,"y":-0.0011},{"s":"A","c":6,"x":-0.3,"y":-0.0017},{"s":"A","c":6,"x":-0.6,"y":-0.0024},{"s":"A","c":6,"x":-0.85,"y":-0.003},
{"s":"A","c":6,"x":-1.0,"y":-0.0036},{"s":"A","c":6,"x":-1.13,"y":-0.0048},{"s":"A","c":6,"x":-1.25,"y":-0.0068},{"s":"A","c":6,"x":-1.37,"y":-0.0098},{"s":"A","c":6,"x":-1.48,"y":-0.0145},{"s":"A","c":6,"x":-1.58,"y":-0.02},{"s":"A","c":6,"x":-1.65,"y":-0.025},{"s":"A","c":6,"x":-1.7,"y":-0.029},{"s":"A","c":6,"x":-1.74,"y":-0.0305},{"s":"A","c":6,"x":-1.78,"y":-0.0287},{"s":"A","c":6,"x":-1.82,"y":-0.0283},{"s":"A","c":6,"x":-1.88,"y":-0.03},{"s":"A","c":6,"x":-1.94,"y":-0.031},{"s":"A","c":6,"x":-2.0,"y":-0.032}
]},
"mark":{"type":"line","interpolate":"catmull-rom","strokeWidth":1.8,"clip":true},
"encoding":{
"x":{"field":"x","type":"quantitative","scale":{"domain":[-2.2,1.173],"nice":false,"zero":false},
 "axis":{"title":"Potential vs Ag/Ag⁺ (V)","titleFont":"Lato","titleFontSize":15,"titleFontWeight":"bold","titleX":229,"titleY":20,"titleBaseline":"top",
 "values":[-2.2,-2.1,-2,-1.9,-1.8,-1.7,-1.6,-1.5,-1.4,-1.3,-1.2,-1.1,-1,-0.9,-0.8,-0.7,-0.6,-0.5,-0.4,-0.3,-0.2,-0.1,0,0.1,0.2,0.3,0.4,0.5,0.6,0.7,0.8,0.9,1,1.1],
 "labelExpr":"abs(round(datum.value*10)) % 5 == 0 ? toString(datum.value) : ''",
 "tickSize":{"condition":{"test":"abs(round(datum.value*10)) % 5 == 0","value":-8},"value":-5},
 "labelPadding":11}},
"y":{"field":"y","type":"quantitative","scale":{"domain":[-0.06,0.08],"nice":false,"zero":false},
 "axis":{"title":"Current (A)","titleFont":"Lato","titleFontSize":15,"titleFontWeight":"normal","titleX":-38,
 "values":[-0.06,-0.05,-0.04,-0.03,-0.02,-0.01,0,0.01,0.02,0.03,0.04,0.05,0.06,0.07,0.08],
 "labelExpr":"abs(round(datum.value*100)) % 2 == 0 ? toString(datum.value) : ''",
 "tickSize":{"condition":{"test":"abs(round(datum.value*100)) % 2 == 0","value":-11},"value":-7},
 "labelPadding":17}},
"color":{"field":"s","type":"nominal","scale":{"domain":["B","A"],"range":["#0070C0","#C00000"]},
 "legend":{"orient":"none","legendX":41,"legendY":10,"title":null,"symbolType":"stroke","symbolSize":529,"symbolStrokeWidth":2,"labelFont":"Lato","labelFontSize":15,"labelColor":"#222222","labelOffset":3,"rowPadding":1,"padding":0,
 "labelExpr":"datum.label == 'B' ? 'Before Thio' : 'After Thio'"}},
"detail":{"field":"c","type":"nominal"},
"order":{"value":null}
}
}
